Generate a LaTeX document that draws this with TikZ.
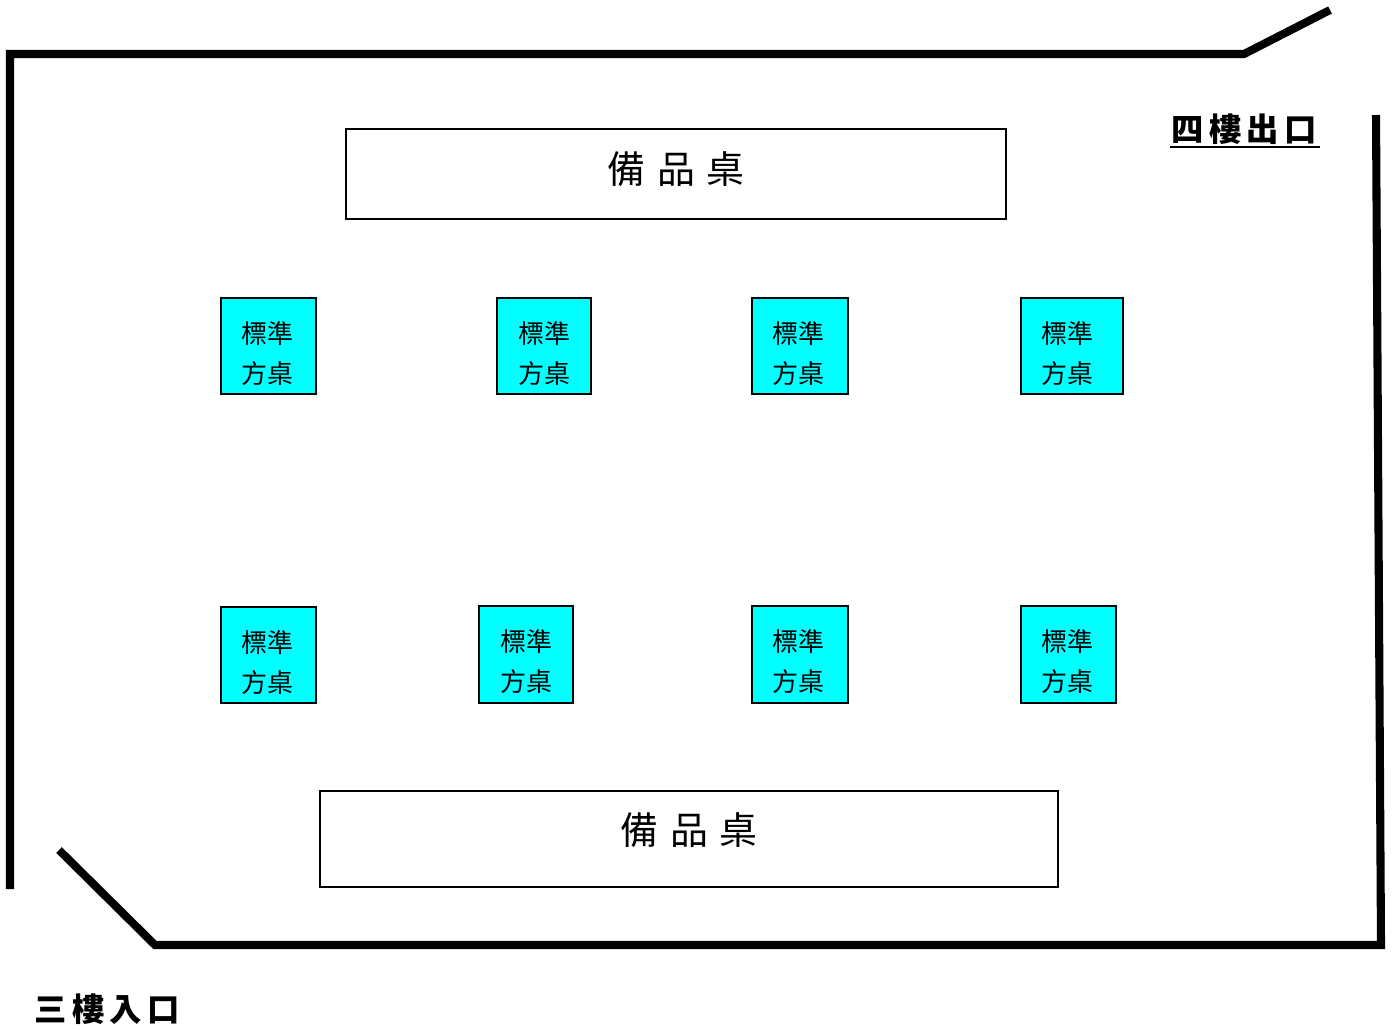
\documentclass[tikz,border=0pt]{standalone}
\usepackage{fontspec}
\newfontfamily\cjk{Noto Sans CJK TC}
\usetikzlibrary{calc}
\definecolor{deskcyan}{RGB}{0,255,255}

\tikzset{
  wall/.style={line width=4.6pt,black,line join=miter},
  tabletext/.style={font=\cjk\fontsize{14.8pt}{22.8pt}\selectfont,align=center,inner sep=0pt},
  squaredesk/.style={draw=black,fill=deskcyan,line width=1.1pt},
  longdesk/.style={draw=black,fill=white,line width=0.9pt},
  longtext/.style={font=\cjk\fontsize{21.6pt}{26pt}\selectfont,inner sep=0pt},
  doortext/.style={font=\cjk\bfseries\fontsize{18.4pt}{22pt}\selectfont,inner sep=0pt}
}

\begin{document}
\begin{tikzpicture}[x=0.02cm,y=-0.02cm]
\useasboundingbox (0,0) rectangle (1392,1029);

% walls
\coordinate (W1) at (10,889);
\coordinate (W2) at (10,54);
\coordinate (W3) at (1244,54);
\coordinate (W4) at (1330,10);
\coordinate (W5) at (1376,115);
\coordinate (W6) at (1381,945);
\coordinate (W7) at (155,945);
\coordinate (W8) at (59,850);
\draw[wall] (W1) -- (W2) -- (W3) -- (W4);
\draw[wall] (W5) -- (W6) -- (W7) -- (W8);

% long tables
\draw[longdesk] (346,129) rectangle (1006,219);
\node[longtext] (top) at (676,169) {備\hspace{6.8pt}品\hspace{6.8pt}桌};
\draw[longdesk] (320,791) rectangle (1058,887);
\node[longtext] (bottom) at (689,830) {備\hspace{6.8pt}品\hspace{6.8pt}桌};

% upper row
\draw[squaredesk] (221,298) rectangle (316,394);
\node[tabletext] (a1) at (267,354) {標準\\方桌};
\draw[squaredesk] (497,298) rectangle (591,394);
\node[tabletext] (a2) at (544,354) {標準\\方桌};
\draw[squaredesk] (752,298) rectangle (848,394);
\node[tabletext] (a3) at (798,354) {標準\\方桌};
\draw[squaredesk] (1021,298) rectangle (1123,394);
\node[tabletext] (a4) at (1067,354) {標準\\方桌};

% lower row
\draw[squaredesk] (221,607) rectangle (316,703);
\node[tabletext] (b1) at (267,663) {標準\\方桌};
\draw[squaredesk] (479,606) rectangle (573,703);
\node[tabletext] (b2) at (526,662) {標準\\方桌};
\draw[squaredesk] (752,606) rectangle (848,703);
\node[tabletext] (b3) at (798,662) {標準\\方桌};
\draw[squaredesk] (1021,606) rectangle (1116,703);
\node[tabletext] (b4) at (1067,662) {標準\\方桌};

% doors
\node[doortext] (exit) at (1244,129) {四\hspace{3pt}樓\hspace{3pt}出\hspace{3pt}口};
\coordinate (U1) at (1170,147);
\coordinate (U2) at (1320,147);
\draw[line width=1.2pt] (U1) -- (U2);
\node[doortext] (enter) at (107,1009) {三\hspace{3pt}樓\hspace{3pt}入\hspace{3pt}口};

\end{tikzpicture}
\end{document}
